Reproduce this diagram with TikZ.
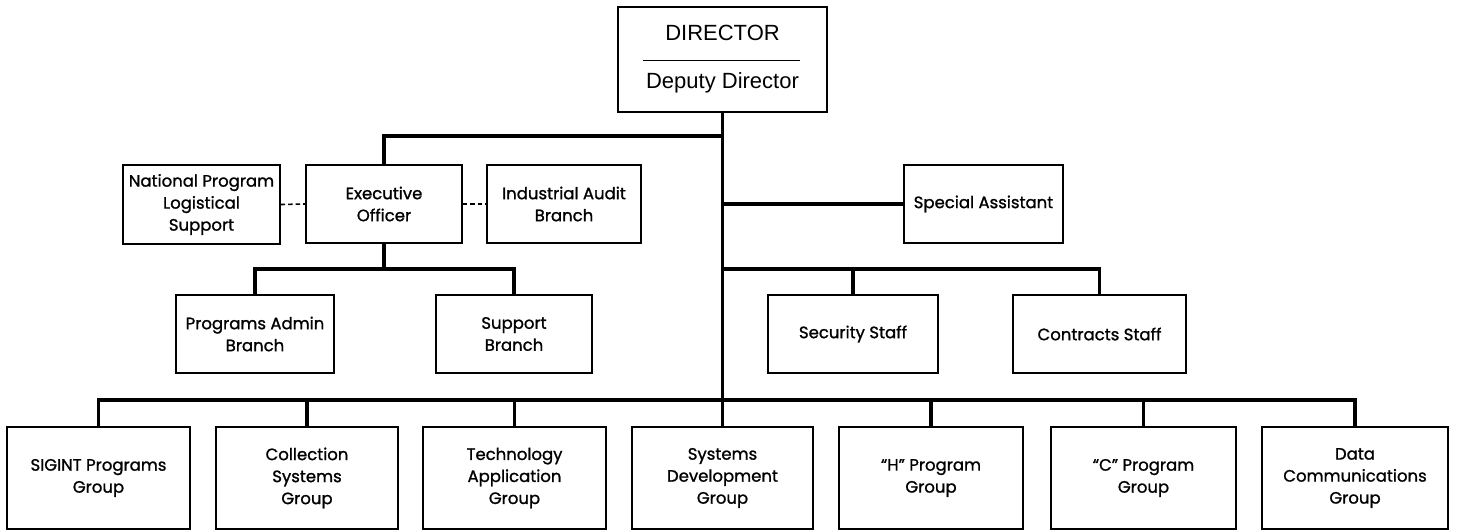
\documentclass[tikz,border=0pt]{standalone}
\usepackage{fontspec}
\setmainfont{Liberation Sans}
\newfontfamily\fut[FakeBold=1.2]{Poppins}
\begin{document}
\begin{tikzpicture}[x=1pt,y=-1pt,
  box/.style={draw, line width=1.3pt, align=center, inner sep=0pt, font=\fut\fontsize{16.5}{22}\selectfont},
  thick line/.style={line width=3.6pt},
  dash line/.style={line width=1.6pt, dash pattern=on 4.5pt off 3pt}]
\useasboundingbox (0,0) rectangle (1458,531);
% Director
\node[draw, line width=1.3pt, minimum width=209pt, minimum height=105pt] (dir) at (722.5,59.5) {};
\node[font=\fontsize{22}{26}\selectfont] (dirt) at (722.5,32.5) {DIRECTOR};
\node[font=\fontsize{22}{26}\selectfont] (dept) at (722.5,83) {Deputy Director};
\coordinate (sepl) at (643,60);
\coordinate (sepr) at (800,60);
\draw[line width=1pt] (sepl) -- (sepr);
% second row
\node[box, minimum width=156pt, minimum height=78pt] (exec) at (384,204) {Executive\\Officer};
\node[box, minimum width=157pt, minimum height=79pt] (nat) at (201.5,204.5) {National Program\\Logistical\\Support};
\node[box, minimum width=154pt, minimum height=78pt] (ind) at (564,204) {Industrial Audit\\Branch};
\node[box, minimum width=159pt, minimum height=78pt] (spec) at (983.5,204) {Special Assistant};
% third row
\node[box, minimum width=158pt, minimum height=78pt] (pab) at (255,334) {Programs Admin\\Branch};
\node[box, minimum width=156pt, minimum height=78pt] (sup) at (514,334) {Support\\Branch};
\node[box, minimum width=170pt, minimum height=78pt] (sec) at (853,334) {Security Staff};
\node[box, minimum width=173pt, minimum height=78pt] (con) at (1099.5,334) {Contracts Staff};
% bottom row
\node[box, minimum width=183pt, minimum height=102pt] (sig) at (98.5,478) {SIGINT Programs\\Group};
\node[box, minimum width=182pt, minimum height=102pt] (col) at (307,478) {Collection\\Systems\\Group};
\node[box, minimum width=183pt, minimum height=102pt] (tec) at (514.5,478) {Technology\\Application\\Group};
\node[box, minimum width=181pt, minimum height=102pt] (sys) at (722.5,478) {Systems\\Development\\Group};
\node[box, minimum width=184pt, minimum height=102pt] (hpg) at (931,478) {“H” Program\\Group};
\node[box, minimum width=185pt, minimum height=102pt] (cpg) at (1143.5,478) {“C” Program\\Group};
\node[box, minimum width=186pt, minimum height=102pt] (dat) at (1355,478) {Data\\Communications\\Group};
% connectors
\coordinate (topj) at (722.5,136);
\coordinate (specj) at (722.5,204);
\coordinate (staffj) at (722.5,269);
\coordinate (botj) at (722.5,400);
\coordinate (execj) at (384,269);
\draw[thick line] (dir.south) -- (sys.north);
\draw[thick line] (topj) -| (exec.north);
\draw[thick line] (specj) -- (spec.west);
\draw[thick line] (exec.south) -- (execj);
\draw[thick line] (pab.north) |- (execj) -| (sup.north);
\draw[thick line] (staffj) -| (sec.north);
\draw[thick line] (staffj) -| (con.north);
\draw[thick line] (sig.north) |- (botj) -| (dat.north);
\draw[thick line] (col.north) -- (col.north |- botj);
\draw[thick line] (tec.north) -- (tec.north |- botj);
\draw[thick line] (hpg.north) -- (hpg.north |- botj);
\draw[thick line] (cpg.north) -- (cpg.north |- botj);
\draw[dash line] (nat.east) -- (exec.west);
\draw[dash line] (exec.east) -- (ind.west);
\end{tikzpicture}
\end{document}
